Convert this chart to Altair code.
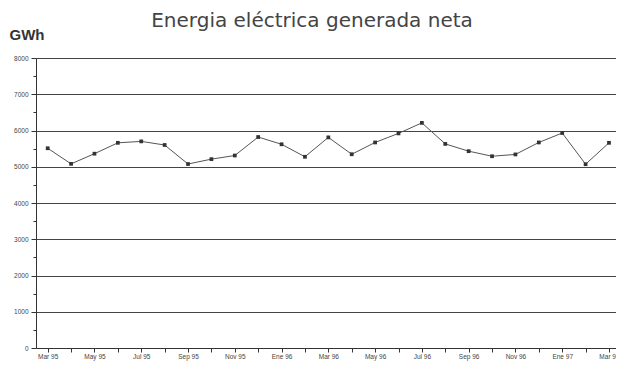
import altair as alt
import pandas as pd

months = ["Mar 95", "Abr 95", "May 95", "Jun 95", "Jul 95", "Ago 95", "Sep 95", "Oct 95",
          "Nov 95", "Dic 95", "Ene 96", "Feb 96", "Mar 96", "Abr 96", "May 96", "Jun 96",
          "Jul 96", "Ago 96", "Sep 96", "Oct 96", "Nov 96", "Dic 96", "Ene 97", "Feb 97",
          "Mar 97"]
gwh = [5510, 5080, 5360, 5660, 5700, 5600, 5075, 5210, 5310, 5820, 5620, 5275, 5810,
       5345, 5670, 5920, 6210, 5630, 5430, 5290, 5340, 5670, 5930, 5070, 5660]
y_ticks = list(range(0, 8001, 500))

df = pd.DataFrame({"mes": months, "gwh": gwh, "i": list(range(len(months)))})

# every other month gets a label
label_arr = "[" + ",".join("'%s'" % (m if k % 2 == 0 else "") for k, m in enumerate(months)) + "]"

chart = alt.Chart(df).mark_line(
    color="#555555", strokeWidth=1,
    point=alt.OverlayMarkDef(shape="square", size=14, color="#333333", filled=True),
).encode(
    x=alt.X("i:Q", title=None,
            scale=alt.Scale(domain=[-0.5, 24.3], nice=False, zero=False),
            axis=alt.Axis(values=list(range(len(months))), labelAngle=0, labelFontSize=6.5,
                          labelColor="#444444", labelFont="Liberation Sans",
                          labelExpr=label_arr + "[datum.value]",
                          labelOverlap=False,
                          domainColor="#333333", tickColor="#333333", tickSize=4,
                          labelPadding=1, grid=False)),
    y=alt.Y("gwh:Q", title="GWh",
            scale=alt.Scale(domain=[0, 8000], nice=False),
            axis=alt.Axis(values=y_ticks, format="d",
                          labelExpr="datum.value % 1000 == 0 ? datum.label : ''",
                          labelFontSize=6.5, labelColor="#444444", labelFont="Liberation Sans",
                          labelPadding=3,
                          tickSize={"condition": {"test": "datum.value % 1000 == 0", "value": 5}, "value": 3},
                          tickColor="#333333", domainColor="#333333",
                          grid=True, gridColor="#444444", gridWidth=1.1,
                          gridOpacity={"condition": {"test": "datum.value % 1000 == 0 && datum.value > 0", "value": 1}, "value": 0},
                          titleAngle=0, titleX=-27, titleY=-16, titleAlign="left",
                          titleFontSize=15, titleFont="Liberation Sans", titleFontWeight="bold",
                          titleColor="#333333")),
    tooltip=["mes", "gwh"],
).properties(
    width=580, height=290,
    title=alt.TitleParams("Energia eléctrica generada neta", fontSize=20,
                          font="DejaVu Sans", fontWeight="normal", color="#444444",
                          anchor="middle", dx=-14, offset=-4),
    autosize=alt.AutoSizeParams(type="none"),
    padding={"left": 28, "top": 50, "right": 0, "bottom": 13},
).configure_view(stroke=None).configure(background="white")

chart.save("out.html", embed_options={"renderer": "svg", "actions": False})
